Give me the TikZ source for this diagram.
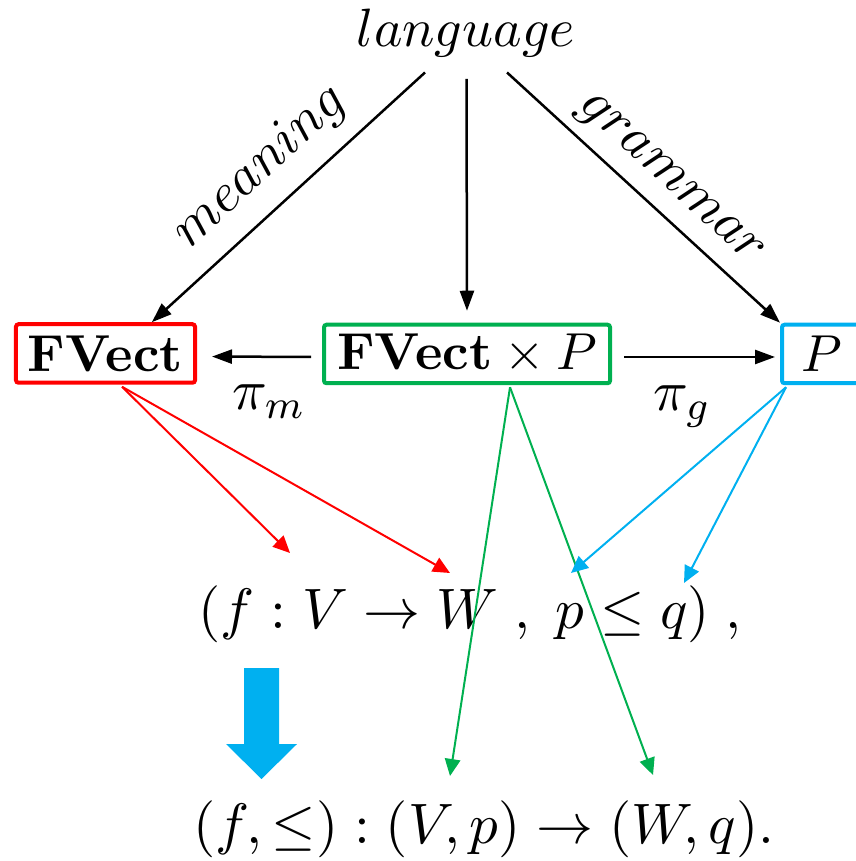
\RequirePackage{fix-cm}
\documentclass[tikz,border=0pt]{standalone}
\usetikzlibrary{arrows.meta,calc}
\definecolor{myred}{HTML}{FF0000}
\definecolor{mygreen}{HTML}{00B050}
\definecolor{myblue}{HTML}{00B0F0}
\begin{document}
\begin{tikzpicture}[x=0.2pt,y=-0.2pt,
  fs/.style={font=\fontsize{#1}{#1}\selectfont},
  box/.style={draw=#1, line width=0.8pt, rounded corners=0.5pt, inner sep=0pt, minimum height=11.7pt},
  blk/.style={line width=0.5pt, -{Triangle[length=4pt,width=2.8pt]}},
  carrow/.style={draw=#1, line width=0.4pt, -{Triangle[length=3.4pt,width=3.1pt]}, fill=#1},
]
\useasboundingbox (0,0) rectangle (855,861);
\node[fs=10.8, anchor=base, inner sep=0pt] (lang) at (466,47) {$language$};
\node[box=myred, minimum width=35.8pt, fs=10.4] (fv) at (105.5,353.5) {$\mathbf{FVect}$};
\node[box=mygreen, minimum width=57.2pt, fs=10.4] (gb) at (467,354) {$\mathbf{FVect}\times P$};
\node[box=myblue, minimum width=16pt, fs=10.4] (pb) at (822,354) {$P$};
\node[fs=11.5, anchor=base] (pim) at (269,410) {$\pi_m$};
\node[fs=11.5, anchor=base] (pig) at (682,411) {$\pi_g$};
\node[fs=11.4, anchor=base] (fa) at (470,628.5) {$(f : V \to W\;,\; p \leq q)\;,$};
\node[fs=11.4, anchor=base] (fb) at (484,843.5) {$(f,\leq) : (V,p) \to (W,q).$};
\draw[blk] ($(lang.south)+(-41,14)$) -- node[sloped, above, pos=0.5, fs=11] (lm) {$meaning$} (fv.34);
\draw[blk, shorten >=2.4pt] ($(lang.south)+(0.5,20.5)$) -- (gb.north);
\draw[blk] ($(lang.south)+(41,14)$) -- node[sloped, above, pos=0.52, inner sep=2.2pt, fs=11] (lg) {$grammar$} (pb.north west);
\draw[blk, shorten <=2.2pt, shorten >=3pt] ([yshift=-0.6pt]gb.west) -- ([yshift=-0.6pt]fv.east);
\draw[blk, shorten <=2.4pt, shorten >=1pt] ([yshift=-0.6pt]gb.east) -- ([yshift=-0.6pt]pb.west);
\coordinate (r1) at (290,553);
\coordinate (r2) at (450,573);
\coordinate (b1) at (571,573);
\coordinate (b2) at (684,583);
\coordinate (g1) at (450,776);
\coordinate (g2) at (653,775);
\draw[carrow=myred] ($(fv.south)+(16.5,2)$) -- (r1);
\draw[carrow=myred] ($(fv.south)+(16.5,2)$) -- (r2);
\draw[carrow=mygreen] ($(gb.south)+(43,2)$) -- (g1);
\draw[carrow=mygreen] ($(gb.south)+(43,2)$) -- (g2);
\draw[carrow=myblue] ($(pb.south west)+(6,2)$) -- (b1);
\draw[carrow=myblue] ($(pb.south west)+(6,2)$) -- (b2);
\fill[myblue] (244,668) -- (279,668) -- (279,744) -- (297,744) -- (261.5,779) -- (226,744) -- (244,744) -- cycle;
\end{tikzpicture}
\end{document}
